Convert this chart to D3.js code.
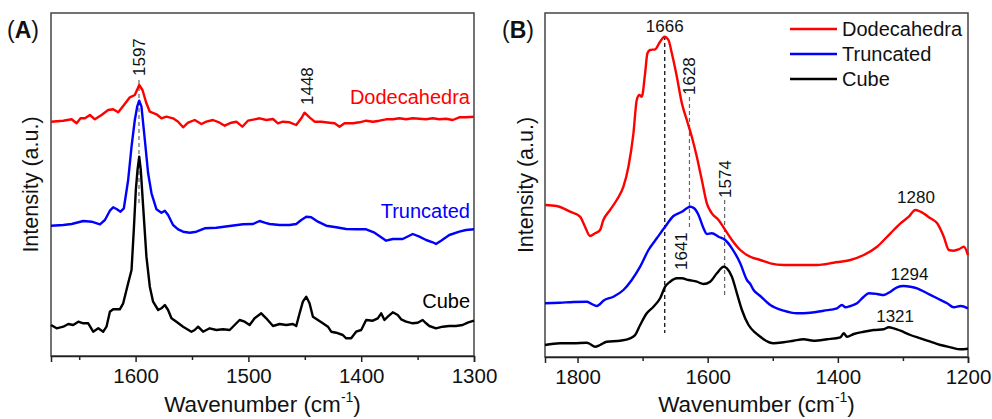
<!DOCTYPE html>
<html lang="en">
<head>
<meta charset="utf-8">
<title>Raman spectra</title>
<script src="https://cdn.jsdelivr.net/npm/d3@7"></script>
<style>
  body { margin: 0; background: #fff; }
  text { font-family: "Liberation Sans", Arial, sans-serif; }
</style>
</head>
<body>
<script>
// ---- data (wavenumber cm-1, intensity a.u.) ----
var seriesNames = ["Dodecahedra", "Truncated", "Cube"];
var seriesColors = ["#ff0000", "#0000ff", "#000000"];

var aTicks = [1600, 1500, 1400, 1300];
var aMinor = [1650, 1550, 1450, 1350];
var bTicks = [1800, 1600, 1400, 1200];
var bMinor = [1700, 1500, 1300];

// panel A
var aDodeca = [[1675,234.3],[1664.1,235.3],[1656.7,236.7],[1652.3,232.7],[1648.8,237.7],[1644.9,237.7],[1640.5,241],[1636.1,236.7],[1630.2,241],[1624.3,246],[1619.9,246.7],[1615.4,243.7],[1611,250],[1605.1,258.7],[1600.7,261],[1596.8,271],[1593.9,266],[1590.4,252.7],[1587.4,244.3],[1581.5,241.7],[1577.1,237.7],[1572.7,239.3],[1566.8,237.7],[1562.3,234.3],[1557.9,228.7],[1553.5,233.3],[1547.6,236],[1541.7,232],[1537.3,234.3],[1531.4,236],[1525.5,233.3],[1521,230.3],[1515.1,233.3],[1510.7,234.3],[1505.4,229.3],[1500.4,235.3],[1494.5,236.7],[1490,237.7],[1484.1,236],[1478.2,237],[1473.8,232.7],[1469.4,234.3],[1463.5,233.7],[1457.6,231],[1453.1,237.7],[1450.2,243.3],[1445.8,238.7],[1441.3,234.3],[1435.4,234.3],[1428.1,233.3],[1423.6,232.7],[1419.2,229.3],[1414.8,232.7],[1407.4,232.7],[1401.5,233.7],[1395.6,235.3],[1389.7,234.3],[1383.8,235.3],[1377.9,236.7],[1372,236.7],[1366.1,237.7],[1360.2,236.7],[1354.3,237.7],[1348.4,237.3],[1342.5,236.7],[1336.6,237.7],[1330.7,236.7],[1324.8,237.3],[1318.9,236],[1313,238.7],[1307.1,238.7],[1300,239.3]];
var aTrunc = [[1675,130.3],[1664.1,131],[1656.7,132],[1646.4,135],[1639,134.3],[1631.6,131.7],[1627.2,136],[1622.8,145.3],[1619.9,148.7],[1616.9,147],[1613.4,144.3],[1610.4,147.7],[1606.6,176],[1603.6,209.3],[1600.7,236],[1598.6,249.3],[1596.8,255.3],[1594.8,249.3],[1591.8,216],[1588.9,182.7],[1585.9,162.7],[1581.5,146.7],[1577.1,143.3],[1574.1,145.3],[1571.2,141],[1566.8,131],[1562.3,126.7],[1557.9,124.3],[1552,123.3],[1546.1,124.3],[1538.7,127.7],[1528.4,128.3],[1516.6,130],[1504.8,131.7],[1495.9,132],[1490.1,135],[1485.6,133.3],[1481.2,132],[1472.3,131],[1463.5,131],[1457.6,132],[1453.1,136],[1448.7,139.3],[1444.3,138.7],[1438.4,134.3],[1431,130.3],[1422.2,128.7],[1413.3,127],[1404.5,126.7],[1395.6,126.7],[1388.2,123.3],[1382.3,118.7],[1377.9,115.3],[1372,117],[1363.2,117],[1354.3,122],[1348.4,119.3],[1342.5,116],[1336.6,113.7],[1333.7,112],[1329.2,115.3],[1321.9,121],[1313,124.3],[1307.1,126],[1300,126.7]];
var aCube = [[1675,31],[1670,27.7],[1664.1,29.3],[1659.7,32],[1655.3,31],[1650.8,34.3],[1646.4,32.7],[1642,32.7],[1637.6,24.3],[1633.1,27.7],[1628.7,24.3],[1625.8,29.3],[1622.8,44.3],[1619.9,46.7],[1614,46.7],[1611,52.7],[1606.6,72.7],[1603.6,86],[1601.6,126],[1599.8,166],[1598.3,186],[1596.8,199.3],[1595.4,186],[1593.3,149.3],[1590.4,99.3],[1587.4,69.3],[1584.5,54.3],[1580,46],[1577.1,47.7],[1574.1,51],[1571.2,46],[1568.2,37.7],[1563.8,34.3],[1557.9,29.3],[1550.5,24.3],[1547.6,26],[1544.6,29.3],[1540.2,24.3],[1534.3,27.7],[1528.4,26],[1522.5,26.7],[1516.6,26],[1512.2,31],[1507.8,36],[1503.3,34.3],[1498.9,31],[1494.5,37.7],[1488.6,42.7],[1484.2,37.7],[1478.2,30],[1472.3,32],[1466.4,31],[1460.5,32],[1457.6,30],[1454.6,42.7],[1451.7,54.3],[1448.7,59.3],[1445.8,52.7],[1442.8,39.3],[1438.4,36],[1434,32.7],[1429.5,29.3],[1426.6,24.3],[1422.2,23.3],[1416.3,21],[1413.3,17.7],[1408.9,17.7],[1404.5,24.3],[1400,26],[1395.6,36],[1389.7,35.3],[1385.3,37.7],[1382.3,42.7],[1379.4,36],[1376.4,39.3],[1372,43.7],[1367.6,41],[1364.6,36.7],[1360.2,34.3],[1354.3,32.7],[1349.9,33.3],[1345.5,36],[1342.5,32.7],[1339.6,30],[1333.7,27.7],[1327.8,29.3],[1321.9,30],[1316,30],[1310.1,31],[1305.6,33.3],[1300,35.3]];

// panel B
var bDodeca = [[1850,152],[1832.1,151],[1811.5,145.3],[1796.2,140.3],[1788.5,130.3],[1780.8,121],[1773.1,123.7],[1765.4,127],[1760.3,137],[1750,147],[1739.8,157],[1729.5,170.3],[1721.8,190.3],[1714.1,223.7],[1709,257],[1704.9,262],[1701.3,260.3],[1696.2,283.7],[1692.6,303.7],[1688.5,307],[1680.8,307.7],[1673.1,315.3],[1666.4,320.3],[1660.3,317],[1655.1,303.7],[1647.4,280.3],[1639.7,253.7],[1632.1,237],[1624.4,220.3],[1616.7,200.3],[1609,177],[1601.3,153.7],[1593.6,143.7],[1583.3,137],[1573.1,127],[1562.8,117],[1550,107],[1534.6,100.3],[1519.2,97],[1503.8,93.7],[1483.3,92],[1457.7,92],[1432,92],[1406.4,94.3],[1380.7,97],[1360.2,102],[1339.7,110.3],[1319.2,123.7],[1303.8,133.7],[1291,140.3],[1280.8,147],[1273.1,145.3],[1257.7,138.7],[1247.4,133.7],[1237.2,120.3],[1229.5,107],[1221.8,106.3],[1214.1,107.7],[1206.4,110.3],[1200,102]];
var bTrunc = [[1850,53.7],[1826.9,54.3],[1806.4,55],[1785.9,55.3],[1778.2,53],[1770.5,51],[1765.4,53],[1760.3,56.3],[1744.9,60.3],[1729.5,67],[1716.7,77],[1703.8,90.3],[1691,107],[1678.2,118.7],[1665.4,130.3],[1652.6,141],[1639.7,145.3],[1632.1,148.7],[1626.9,150.3],[1620.8,148.7],[1614.1,142],[1606.4,128.7],[1601.3,123],[1593.6,123.7],[1583.3,120.3],[1573.1,117],[1562.8,108.7],[1550,93.7],[1539.7,77],[1534.6,73],[1529.5,67],[1519.2,61],[1503.8,52],[1483.3,46.3],[1462.8,43.7],[1442.3,44.3],[1421.8,46.3],[1401.3,48.7],[1393.6,52],[1388.4,49.7],[1380.7,51],[1370.5,53.7],[1360.2,60.3],[1352.5,63.7],[1339.7,63],[1329.5,62],[1319.2,65.3],[1309,69.7],[1298.7,71],[1288.5,70.3],[1278.2,68.7],[1262.8,63.7],[1247.4,58.7],[1232.1,53.7],[1221.8,49.7],[1211.5,51],[1200,48.7]];
var bCube = [[1850,12],[1826.9,13.7],[1806.4,13.7],[1785.9,14.3],[1780.8,13],[1773.1,10.3],[1765.4,12],[1755.1,15.3],[1734.6,16.3],[1719.2,18.7],[1711.5,22],[1703.8,32],[1693.6,43.7],[1683.3,50.3],[1673.1,58.7],[1665.4,70.3],[1657.7,75.3],[1647.4,78.7],[1639.7,78.7],[1629.5,77],[1616.7,75.3],[1606.4,73],[1596.2,75.3],[1585.9,83.7],[1575.6,90.3],[1570.5,88.7],[1562.8,80.3],[1555.1,63.7],[1547.4,47],[1537.2,32],[1526.9,24.3],[1519.2,20.3],[1514.1,17.7],[1498.7,13.7],[1483.3,14.7],[1467.9,16.3],[1452.6,17.7],[1437.2,16.3],[1416.7,17.7],[1396.1,19.7],[1391,23.7],[1385.9,20.3],[1375.6,23],[1360.2,25.3],[1344.9,27],[1329.5,27.7],[1321.8,29.7],[1314.1,28.7],[1303.8,26.3],[1288.5,22],[1273.1,18.7],[1257.7,15.3],[1242.3,12],[1226.9,9.7],[1211.5,7.7],[1200,8.3]];

// peak annotations: label, wavenumber of text, intensity at text foot, rotated, line [from, to] or null
var aPeaks = [
  { label: "1597", wn: 1597, y: 280, rot: true, line: [276, 153], dark: false },
  { label: "1448", wn: 1448, y: 251, rot: true, line: null }
];
var bPeaks = [
  { label: "1666", wn: 1666, y: 325, rot: false, line: [321, 24], dark: true },
  { label: "1628", wn: 1628, y: 262, rot: true, line: [260, 127], dark: false },
  { label: "1574", wn: 1574, y: 159, rot: true, line: [157, 60], dark: false },
  { label: "1641", wn: 1641, y: 87, rot: true, line: null },
  { label: "1280", wn: 1280, y: 154, rot: false, line: null },
  { label: "1294", wn: 1290, y: 77, rot: false, line: null },
  { label: "1321", wn: 1312, y: 35, rot: false, line: null }
];
// curve name labels in panel A (intensity at baseline)
var aNameY = [252, 138, 48];

var W = 992, H = 419;
var svg = d3.select("body").append("svg").attr("width", W).attr("height", H);

function panel(opt) {
  var x = d3.scaleLinear().domain(opt.xDomain).range([opt.left, opt.right]);
  var y = d3.scaleLinear().domain(opt.yDomain).range([opt.bottom, opt.top]);
  var g = svg.append("g");

  // frame
  g.append("rect")
    .attr("x", opt.left).attr("y", opt.top)
    .attr("width", opt.right - opt.left).attr("height", opt.bottom - opt.top)
    .attr("fill", "none").attr("stroke", "#444").attr("stroke-width", 1.5);

  // x axis: major + minor
  var ax = g.append("g").attr("transform", "translate(0," + opt.bottom + ")")
    .call(d3.axisBottom(x).tickValues(opt.ticks).tickSize(6).tickPadding(6).tickFormat(d3.format("d")));
  ax.select(".domain").attr("stroke", "#222").attr("stroke-width", 1.5);
  ax.selectAll(".tick line").attr("stroke", "#222").attr("stroke-width", 1.5);
  ax.selectAll(".tick text").attr("font-size", 20.5).attr("fill", "#111")
    .style("font-family", "'Liberation Sans', Arial, sans-serif");
  var mx = g.append("g").attr("transform", "translate(0," + opt.bottom + ")")
    .call(d3.axisBottom(x).tickValues(opt.minor).tickSize(4).tickFormat(""));
  mx.select(".domain").remove();
  mx.selectAll(".tick line").attr("stroke", "#222").attr("stroke-width", 1.5);

  // axis titles
  var xt = g.append("text")
    .attr("x", (opt.left + opt.right) / 2).attr("y", 412)
    .attr("text-anchor", "middle").attr("font-size", 22.5).attr("fill", "#111");
  xt.append("tspan").text("Wavenumber (cm");
  xt.append("tspan").text("-1").attr("font-size", 14).attr("dy", -10);
  xt.append("tspan").text(")").attr("dy", 10);

  g.append("text")
    .attr("transform", "translate(" + opt.yTitleX + "," + ((opt.top + opt.bottom) / 2) + ") rotate(-90)")
    .attr("text-anchor", "middle").attr("font-size", 21.5).attr("fill", "#111")
    .text("Intensity (a.u.)");

  // panel letter
  var pl = g.append("text").attr("x", opt.letterX).attr("y", 38)
    .attr("font-size", 23).attr("fill", "#111");
  pl.append("tspan").text("(");
  pl.append("tspan").text(opt.letter).attr("font-weight", "bold");
  pl.append("tspan").text(")");

  // peak guide lines
  opt.peaks.filter(function(d) { return d.line; }).forEach(function(d) {
    g.append("line")
      .attr("x1", x(d.wn)).attr("x2", x(d.wn))
      .attr("y1", y(d.line[0])).attr("y2", y(d.line[1]))
      .attr("stroke", d.dark ? "#000" : "#666")
      .attr("stroke-width", 1.2)
      .attr("stroke-dasharray", "4,3");
  });

  // spectra
  var line = d3.line()
    .x(function(d) { return x(d[0]); })
    .y(function(d) { return y(d[1]); })
    .curve(opt.curve);
  g.selectAll("path.spec")
    .data(opt.series)
    .enter().append("path")
    .attr("class", "spec")
    .attr("d", line)
    .attr("fill", "none")
    .attr("stroke", function(d, i) { return seriesColors[i]; })
    .attr("stroke-width", 2.4)
    .attr("stroke-linejoin", "round");

  // peak labels
  opt.peaks.forEach(function(d) {
    var t = g.append("text").attr("font-size", 17).attr("fill", "#111").text(d.label);
    if (d.rot) {
      t.attr("transform", "translate(" + x(d.wn) + "," + y(d.y) + ") rotate(-90)")
        .attr("dy", "0.35em").attr("text-anchor", "start");
    } else {
      t.attr("x", x(d.wn)).attr("y", y(d.y)).attr("text-anchor", "middle");
    }
  });

  return { x: x, y: y, g: g };
}

var pA = panel({
  left: 51, right: 474, top: 13, bottom: 356,
  xDomain: [1675, 1300], yDomain: [0, 343],
  ticks: aTicks, minor: aMinor,
  series: [aDodeca, aTrunc, aCube],
  peaks: aPeaks, letter: "A", letterX: 7, yTitleX: 38,
  curve: d3.curveLinear
});

var pB = panel({
  left: 545, right: 968, top: 13, bottom: 357,
  xDomain: [1850, 1200], yDomain: [0, 344],
  ticks: bTicks, minor: bMinor,
  series: [bDodeca, bTrunc, bCube],
  peaks: bPeaks, letter: "B", letterX: 502, yTitleX: 533,
  curve: d3.curveMonotoneX
});

// curve names inside panel A
pA.g.selectAll("text.name")
  .data(seriesNames)
  .enter().append("text")
  .attr("class", "name")
  .attr("x", 470)
  .attr("y", function(d, i) { return pA.y(aNameY[i]); })
  .attr("text-anchor", "end")
  .attr("font-size", 20)
  .attr("fill", function(d, i) { return seriesColors[i]; })
  .text(function(d) { return d; });

// legend in panel B
var leg = pB.g.selectAll("g.leg")
  .data(seriesNames)
  .enter().append("g")
  .attr("class", "leg")
  .attr("transform", function(d, i) { return "translate(790," + (29 + i * 25) + ")"; });
leg.append("line")
  .attr("x1", 0).attr("x2", 47)
  .attr("stroke", function(d, i) { return seriesColors[i]; })
  .attr("stroke-width", 2.4);
leg.append("text")
  .attr("x", 52).attr("dy", "0.35em")
  .attr("font-size", 20).attr("fill", "#111")
  .text(function(d) { return d; });
</script>
</body>
</html>
